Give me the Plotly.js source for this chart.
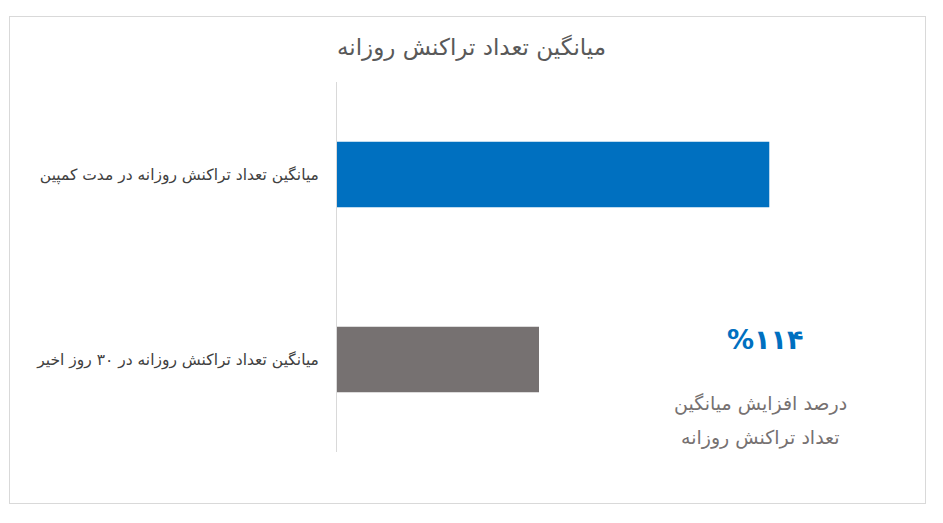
<!DOCTYPE html>
<html>
<head>
<meta charset="utf-8">
<script src="https://cdn.plot.ly/plotly-3.0.1.min.js"></script>
<style>
  body { margin: 0; background: #fff; }
  #wrap { position: relative; width: 943px; height: 523px; }
  #frame { position: absolute; left: 9px; top: 16px; width: 915px; height: 486px;
           border: 1px solid #d9d9d9; pointer-events: none; }
</style>
</head>
<body>
<div id="wrap">
  <div id="plot" style="width:943px;height:523px;"></div>
  <div id="frame"></div>
</div>
<script>
// ======================= DATA =======================
const categories = ['میانگین تعداد تراکنش روزانه در مدت کمپین', 'میانگین تعداد تراکنش روزانه در ۳۰ روز اخیر'];
const values = [214, 100];
const barColors = ['#0070C0', '#767171'];
const chartTitle = 'میانگین تعداد تراکنش روزانه';
const kpiText = '%۱۱۴';
const kpiCaption = ['درصد افزایش میانگین', 'تعداد تراکنش روزانه'];

const font = 'DejaVu Sans, sans-serif';

// ======================= PLOT =======================
const trace = {
  type: 'bar',
  orientation: 'h',
  x: values,
  y: categories,
  marker: { color: barColors },
  hoverinfo: 'none'
};

const layout = {
  width: 943,
  height: 523,
  margin: { l: 337, r: 101, t: 82, b: 71 },
  paper_bgcolor: '#fff',
  plot_bgcolor: '#fff',
  showlegend: false,
  bargap: 0.645,
  font: { family: font, color: '#404040' },
  title: {
    text: chartTitle,
    font: { family: font, size: 23, color: '#595959' },
    x: 0.5, xref: 'container', xanchor: 'center',
    y: 0.91, yref: 'container', yanchor: 'middle'
  },
  xaxis: {
    range: [0, 250],
    showgrid: false, zeroline: false, showline: false,
    showticklabels: false, ticks: ''
  },
  yaxis: {
    autorange: 'reversed',
    showgrid: false, zeroline: false,
    showline: true, linecolor: '#d9d9d9', linewidth: 1,
    ticks: '', ticklabelstandoff: 14,
    tickfont: { family: font, size: 15.5, color: '#404040' }
  },
  annotations: [
    { text: '<b>' + kpiText + '</b>', xref: 'paper', yref: 'paper', x: 0.848, y: 0.303,
      xanchor: 'center', yanchor: 'middle',
      showarrow: false, font: { family: font, size: 27, color: '#0070C0' } },
    { text: kpiCaption[0], xref: 'paper', yref: 'paper', x: 0.838, y: 0.132,
      xanchor: 'center', yanchor: 'middle',
      showarrow: false, font: { family: font, size: 19, color: '#767171' } },
    { text: kpiCaption[1], xref: 'paper', yref: 'paper', x: 0.838, y: 0.040,
      xanchor: 'center', yanchor: 'middle',
      showarrow: false, font: { family: font, size: 19, color: '#767171' } }
  ]
};

Plotly.newPlot('plot', [trace], layout, { displayModeBar: false, staticPlot: true });
</script>
</body>
</html>
